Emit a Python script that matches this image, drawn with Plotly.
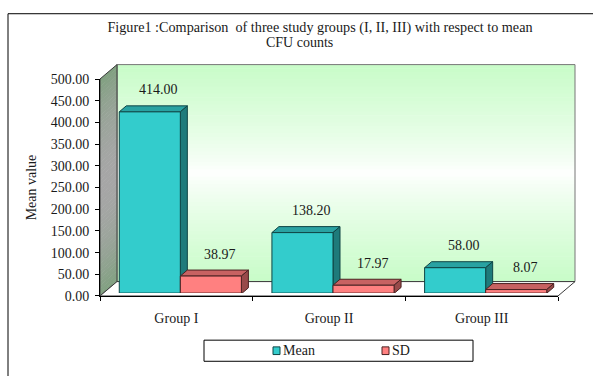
import plotly.graph_objects as go

# ---------------- data ----------------
categories = ["Group I", "Group II", "Group III"]
mean_values = [414.00, 138.20, 58.00]
sd_values = [38.97, 17.97, 8.07]
series_names = ["Mean", "SD"]
y_ticks = [0, 50, 100, 150, 200, 250, 300, 350, 400, 450, 500]
title_line1 = "Figure1 :Comparison  of three study groups (I, II, III) with respect to mean"
title_line2 = "CFU counts"
y_title = "Mean value"

# ---------------- geometry (pixels) ----------------
W, H = 593, 376
def px(x):
    return x / W
def py(y):
    return 1 - y / H

AX_L, AX_R, AX_B, AX_T = 100, 558, 301, 75     # front plane of the plot box
DX, DY = 17, 15                                 # wall depth offset
BFX, BFY = 4, 3                                 # bar front plane offset
BDX, BDY = 7, 6                                 # bar depth
YMAX = 500
BAR_T = AX_T - BFY - 2
ppu = (AX_B - BFY - BAR_T) / YMAX
cat_px = (AX_R - AX_L) / len(categories)
BAR_W = 0.4
bar_w_px = BAR_W * cat_px

FONT = "Liberation Serif"
TXT = "#1a1a1a"

MEAN_FRONT, MEAN_TOP, MEAN_SIDE, MEAN_EDGE = "#33CCCC", "#29A2A2", "#1E7B7B", "#0F4545"
SD_FRONT, SD_TOP, SD_SIDE, SD_EDGE = "#FF8080", "#C86262", "#984A4A", "#4A2222"

def mix(c1, c2, t):
    return "rgb(%d,%d,%d)" % tuple(round(a + (b - a) * t) for a, b in zip(c1, c2))

shapes = []

# outer frame
shapes.append(dict(type="rect", xref="paper", yref="paper", x0=px(8), y0=py(7),
                   x1=px(800), y1=py(600), line=dict(color="black", width=1),
                   fillcolor="rgba(0,0,0,0)", layer="below"))

# back wall gradient (green - white - green)
bw_l, bw_r, bw_t, bw_b = AX_L + DX, AX_R + DX, AX_T - DY, AX_B - DY
N = 60
green = (200, 252, 200)
white = (255, 255, 255)
for k in range(N):
    y0 = bw_t + (bw_b - bw_t) * k / N
    y1 = bw_t + (bw_b - bw_t) * (k + 1) / N
    t = abs(((y0 + y1) / 2 - (bw_t + bw_b) / 2) / ((bw_b - bw_t) / 2))
    shapes.append(dict(type="rect", xref="paper", yref="paper", x0=px(bw_l), x1=px(bw_r),
                       y0=py(y0), y1=py(y1 + 0.6), line=dict(width=0),
                       fillcolor=mix(white, green, min(1, t ** 0.8)), layer="below"))
shapes.append(dict(type="rect", xref="paper", yref="paper", x0=px(bw_l), x1=px(bw_r),
                   y0=py(bw_t), y1=py(bw_b), line=dict(color="#777777", width=1),
                   fillcolor="rgba(0,0,0,0)", layer="below"))

# left wall gradient (green - gray - green)
wgreen = (128, 160, 128)
wgray = (166, 166, 166)
for k in range(N):
    y0 = AX_T + (AX_B - AX_T) * k / N
    y1 = AX_T + (AX_B - AX_T) * (k + 1) / N + 0.6
    t = abs(((y0 + y1) / 2 - (AX_T + AX_B) / 2) / ((AX_B - AX_T) / 2))
    path = "M%f,%f L%f,%f L%f,%f L%f,%f Z" % (
        px(AX_L), py(y0), px(AX_L + DX), py(y0 - DY),
        px(AX_L + DX), py(y1 - DY), px(AX_L), py(y1))
    shapes.append(dict(type="path", xref="paper", yref="paper", path=path,
                       line=dict(width=0), fillcolor=mix(wgray, wgreen, t ** 2), layer="below"))
shapes.append(dict(type="path", xref="paper", yref="paper",
                   path="M%f,%f L%f,%f L%f,%f L%f,%f Z" % (
                       px(AX_L), py(AX_T), px(AX_L + DX), py(AX_T - DY),
                       px(AX_L + DX), py(AX_B - DY), px(AX_L), py(AX_B)),
                   line=dict(color="#3a3a3a", width=1), fillcolor="rgba(0,0,0,0)", layer="below"))

# floor
shapes.append(dict(type="path", xref="paper", yref="paper",
                   path="M%f,%f L%f,%f L%f,%f L%f,%f Z" % (
                       px(AX_L), py(AX_B), px(AX_R), py(AX_B),
                       px(AX_R + DX), py(AX_B - DY), px(AX_L + DX), py(AX_B - DY)),
                   line=dict(color="#3a3a3a", width=1), fillcolor="white", layer="below"))

# 3D faces of the bars, computed from the data values
def bar_faces(xleft, value, top_c, side_c, edge_c):
    h = value * ppu
    top = dict(type="path", xref="x2", yref="y2", xsizemode="pixel", ysizemode="pixel",
               xanchor=xleft, yanchor=value,
               path="M0,0 L%f,0 L%f,%f L%f,%f Z" % (bar_w_px, bar_w_px + BDX, BDY, BDX, BDY),
               fillcolor=top_c, line=dict(color=edge_c, width=1), layer="below")
    side = dict(type="path", xref="x2", yref="y2", xsizemode="pixel", ysizemode="pixel",
                xanchor=xleft + BAR_W, yanchor=value,
                path="M0,0 L%f,%f L%f,%f L0,%f Z" % (BDX, BDY, BDX, BDY - h, -h),
                fillcolor=side_c, line=dict(color=edge_c, width=1), layer="below")
    return [top, side]

for i in range(len(categories)):
    shapes += bar_faces(i - BAR_W, mean_values[i], MEAN_TOP, MEAN_SIDE, MEAN_EDGE)
    shapes += bar_faces(i, sd_values[i], SD_TOP, SD_SIDE, SD_EDGE)

# legend box & keys
LG_L, LG_R, LG_T, LG_B = 204, 473, 347, 369
shapes.append(dict(type="rect", xref="paper", yref="paper", x0=px(LG_L), x1=px(LG_R),
                   y0=py(LG_T), y1=py(LG_B), line=dict(color="black", width=1),
                   fillcolor="white"))
legend_keys = [(273, MEAN_FRONT, MEAN_EDGE), (382, SD_FRONT, SD_EDGE)]
for (kx, fc, ec) in legend_keys:
    shapes.append(dict(type="rect", xref="paper", yref="paper", x0=px(kx), x1=px(kx + 7),
                       y0=py(354), y1=py(362), line=dict(color=ec, width=1), fillcolor=fc))

annotations = []
for (kx, _, _), name in zip(legend_keys, series_names):
    annotations.append(dict(xref="paper", yref="paper", x=px(kx + 8), y=py(358),
                            xanchor="left", yanchor="middle", text=name, showarrow=False,
                            font=dict(family=FONT, size=14, color=TXT)))

# data labels
for i in range(len(categories)):
    for xc, v in ((i - BAR_W / 2, mean_values[i]), (i + BAR_W / 2, sd_values[i])):
        annotations.append(dict(xref="x2", yref="y2", x=xc, y=v, text="%.2f" % v,
                                showarrow=False, xanchor="center", yanchor="middle",
                                xshift=9, yshift=22,
                                font=dict(family=FONT, size=14, color=TXT)))

annotations.append(dict(xref="paper", yref="paper", x=px(299), y=py(37), text=title_line2,
                        showarrow=False, xanchor="center", yanchor="middle",
                        font=dict(family=FONT, size=14, color=TXT)))

fig = go.Figure()
# invisible trace so the front category axis knows its categories
fig.add_trace(go.Scatter(x=categories, y=[0] * len(categories), mode="none",
                         showlegend=False, hoverinfo="skip", xaxis="x", yaxis="y"))
fig.add_trace(go.Bar(x=list(range(len(categories))), y=mean_values, name=series_names[0],
                     offset=-BAR_W, width=BAR_W, xaxis="x2", yaxis="y2",
                     marker=dict(color=MEAN_FRONT, line=dict(color=MEAN_EDGE, width=1))))
fig.add_trace(go.Bar(x=list(range(len(categories))), y=sd_values, name=series_names[1],
                     offset=0, width=BAR_W, xaxis="x2", yaxis="y2",
                     marker=dict(color=SD_FRONT, line=dict(color=SD_EDGE, width=1))))

fig.update_layout(
    width=W, height=H, autosize=False,
    margin=dict(l=0, r=0, t=0, b=0),
    paper_bgcolor="white", plot_bgcolor="rgba(0,0,0,0)",
    showlegend=False,
    title=dict(text=title_line1, x=px(320), xanchor="center", y=py(21), yanchor="middle",
               xref="paper", yref="paper", font=dict(family=FONT, size=14.2, color=TXT)),
    xaxis=dict(domain=[px(AX_L), px(AX_R)], anchor="y", type="category",
               categoryorder="array", categoryarray=categories, range=[-0.5, len(categories) - 0.5],
               tickson="boundaries", ticks="outside", ticklen=4, tickcolor="black",
               ticklabelstandoff=9,
               showline=True, linecolor="black", linewidth=1, showgrid=False, zeroline=False,
               tickfont=dict(family=FONT, size=14, color=TXT), fixedrange=True),
    yaxis=dict(domain=[py(AX_B), py(AX_T)], anchor="x", range=[0, YMAX],
               tickvals=y_ticks, ticktext=["%.2f" % v for v in y_ticks],
               ticks="outside", ticklen=4, tickcolor="black", ticklabelstandoff=3,
               showline=True, linecolor="black", linewidth=1, showgrid=False, zeroline=False,
               tickfont=dict(family=FONT, size=14, color=TXT),
               title=dict(text=y_title, font=dict(family=FONT, size=14, color=TXT), standoff=10),
               fixedrange=True),
    xaxis2=dict(domain=[px(AX_L + BFX), px(AX_R + BFX)], anchor="y2",
                range=[-0.5, len(categories) - 0.5], visible=False, fixedrange=True),
    yaxis2=dict(domain=[py(AX_B - BFY), py(BAR_T)], anchor="x2",
                range=[0, YMAX], visible=False, fixedrange=True),
    shapes=shapes,
    annotations=annotations,
)

fig.write_html("out.html")
